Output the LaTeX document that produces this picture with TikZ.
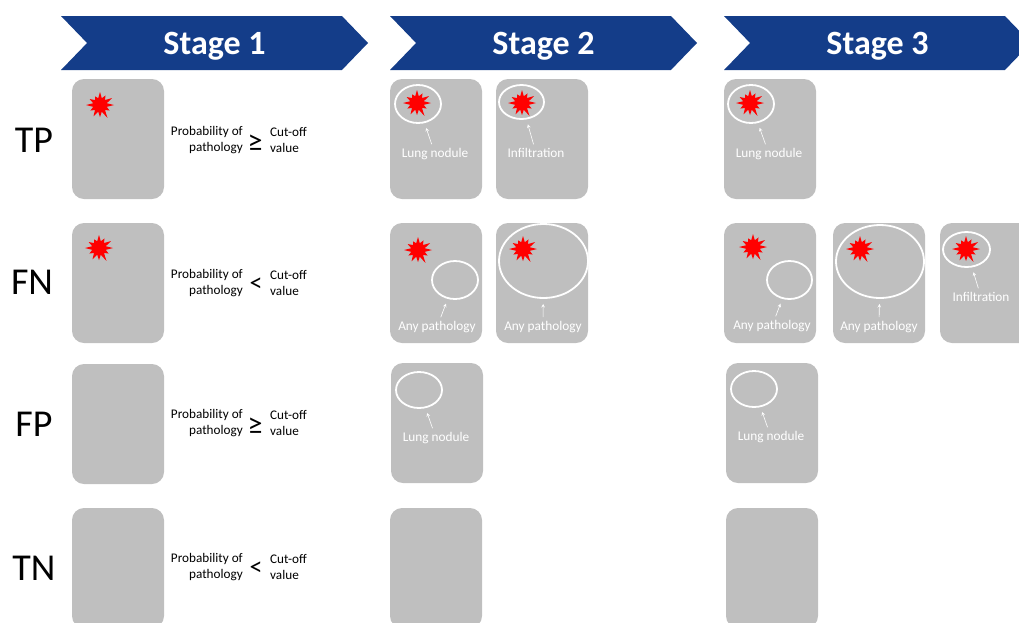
\documentclass[tikz,border=0pt]{standalone}
\usepackage{fontspec}
\setmainfont{Carlito}
\usepackage{tikz}
\usetikzlibrary{shapes.geometric, shapes.symbols, arrows, positioning, calc}

\definecolor{stageblue}{RGB}{20,61,137}
\definecolor{cardgray}{RGB}{191,191,191}

\begin{document}
\begin{tikzpicture}[
    x=1pt, y=-1pt,
    stage/.style={signal, signal from=west, signal to=east, signal pointer angle=92, fill=stageblue, minimum width=307pt, minimum height=54pt, inner sep=0pt, text height=22pt, text depth=0pt, text=white, font=\fontsize{34}{36}\selectfont\bfseries},
    card/.style={rectangle, fill=cardgray, minimum width=92pt, minimum height=120pt, rounded corners=12pt},
    rowlabel/.style={font=\fontsize{38}{40}\selectfont},
    prob/.style={align=right, anchor=east, inner sep=0pt, font=\fontsize{13.2}{16}\selectfont},
    cut/.style={align=left, anchor=west, inner sep=0pt, font=\fontsize{13.2}{16}\selectfont},
    rel/.style={inner sep=0pt, font=\fontsize{26}{26}\selectfont},
    relge/.style={rel, text height=14pt, text depth=0pt, font=\fontsize{30}{30}\selectfont},
    ring/.style={ellipse, draw=white, line width=1.8pt, inner sep=0pt},
    note/.style={text=white, inner sep=1pt, font=\fontsize{13.3}{15}\selectfont},
    ptr/.style={->, >=stealth, draw=white, line width=0.6pt, shorten >=5pt, shorten <=3pt},
    burst/.pic={\fill[red] (0:14) -- (15:7) -- (30:11) -- (45:7) -- (60:15) -- (75:7) -- (90:12) -- (105:7) -- (120:13) -- (135:7) -- (150:11) -- (165:7) -- (180:14) -- (195:7) -- (210:12) -- (225:7) -- (240:10) -- (255:7) -- (270:13) -- (285:7) -- (300:11) -- (315:7) -- (330:14) -- (345:7) -- cycle;}
]
\useasboundingbox (0,0) rectangle (1019,622);
\clip (0,0) rectangle (1019,622);

% Stage headers
\node[stage] (stageA) at (214.5,43) {Stage 1};
\node[stage] (stageB) at (543.5,43) {Stage 2};
\node[stage] (stageC) at (877.5,43) {Stage 3};

% Row labels
\node[rowlabel] (tpLabel) at (34,140) {TP};
\node[rowlabel] (fnLabel) at (32,282) {FN};
\node[rowlabel] (fpLabel) at (34,424) {FP};
\node[rowlabel] (tnLabel) at (34,568) {TN};

% Stage 1
\node[card] (tpA) at (118,139) {};
\node[card] (fnA) at (118,283) {};
\node[card] (fpA) at (118,424) {};
\node[card] (tnA) at (118,568) {};
\pic at (100,105) {burst};
\pic at (99,248) {burst};

\node[prob] (tpProb) at (243,140) {Probability of\\pathology};
\node[relge] (tpRel) at (255,144) {≥};
\node[cut] (tpCut) at (270,140) {Cut-off\\value};
\node[prob] (fnProb) at (243,283) {Probability of\\pathology};
\node[rel] (fnRel) at (256,285) {<};
\node[cut] (fnCut) at (270,283) {Cut-off\\value};
\node[prob] (fpProb) at (243,423) {Probability of\\pathology};
\node[relge] (fpRel) at (255,427) {≥};
\node[cut] (fpCut) at (270,423) {Cut-off\\value};
\node[prob] (tnProb) at (243,567) {Probability of\\pathology};
\node[rel] (tnRel) at (256,569) {<};
\node[cut] (tnCut) at (270,567) {Cut-off\\value};

% Stage 2
\node[card] (tpB) at (436,139) {};
\node[card] (tpB2) at (542,139) {};
\node[card] (fnB) at (436,283) {};
\node[card] (fnB2) at (542,283) {};
\node[card] (fpB) at (437,423) {};
\node[card] (tnB) at (436,568) {};

\pic at (417,103) {burst};
\node[ring, minimum width=46pt, minimum height=38pt] (tpBRing) at (418,104) {};
\node[note] (tpBNote) at (435,154) {Lung nodule};
\draw[ptr] (tpBNote) -- (tpBRing);

\pic at (522,103) {burst};
\node[ring, minimum width=45pt, minimum height=34pt] (tpB2Ring) at (521.5,102) {};
\node[note] (tpB2Note) at (536,153) {Infiltration};
\draw[ptr] (tpB2Note) -- (tpB2Ring);

\pic at (418,250) {burst};
\node[ring, minimum width=46pt, minimum height=38pt] (fnBRing) at (455,280) {};
\node[note] (fnBNote) at (437,327) {Any pathology};
\draw[ptr] (fnBNote) -- (fnBRing);

\pic at (523,249) {burst};
\node[ring, minimum width=89pt, minimum height=74pt] (fnB2Ring) at (543.5,261) {};
\node[note] (fnB2Note) at (543,327) {Any pathology};
\draw[ptr] (fnB2Note) -- (fnB2Ring);

\node[ring, minimum width=46pt, minimum height=36pt] (fpBRing) at (419,390) {};
\node[note] (fpBNote) at (436,438) {Lung nodule};
\draw[ptr] (fpBNote) -- (fpBRing);

% Stage 3
\node[card] (tpC) at (770,139) {};
\node[card] (fnC) at (770,283) {};
\node[card] (fnC2) at (879,283) {};
\node[card] (fnC3) at (986,283) {};
\node[card] (fpC) at (772,423) {};
\node[card] (tnC) at (772,568) {};

\pic at (750,103) {burst};
\node[ring, minimum width=46pt, minimum height=38pt] (tpCRing) at (751,104) {};
\node[note] (tpCNote) at (769,154) {Lung nodule};
\draw[ptr] (tpCNote) -- (tpCRing);

\pic at (753,247) {burst};
\node[ring, minimum width=45pt, minimum height=38pt] (fnCRing) at (789.5,280) {};
\node[note] (fnCNote) at (772,326) {Any pathology};
\draw[ptr] (fnCNote) -- (fnCRing);

\pic at (860,249) {burst};
\node[ring, minimum width=88pt, minimum height=73pt] (fnC2Ring) at (880,261.5) {};
\node[note] (fnC2Note) at (879,327) {Any pathology};
\draw[ptr] (fnC2Note) -- (fnC2Ring);

\pic at (966,249) {burst};
\node[ring, minimum width=47pt, minimum height=35pt] (fnC3Ring) at (966.5,249.5) {};
\node[note] (fnC3Note) at (981,297) {Infiltration};
\draw[ptr] (fnC3Note) -- (fnC3Ring);

\node[ring, minimum width=46pt, minimum height=36pt] (fpCRing) at (754,389) {};
\node[note] (fpCNote) at (771,437) {Lung nodule};
\draw[ptr] (fpCNote) -- (fpCRing);

\end{tikzpicture}
\end{document}
